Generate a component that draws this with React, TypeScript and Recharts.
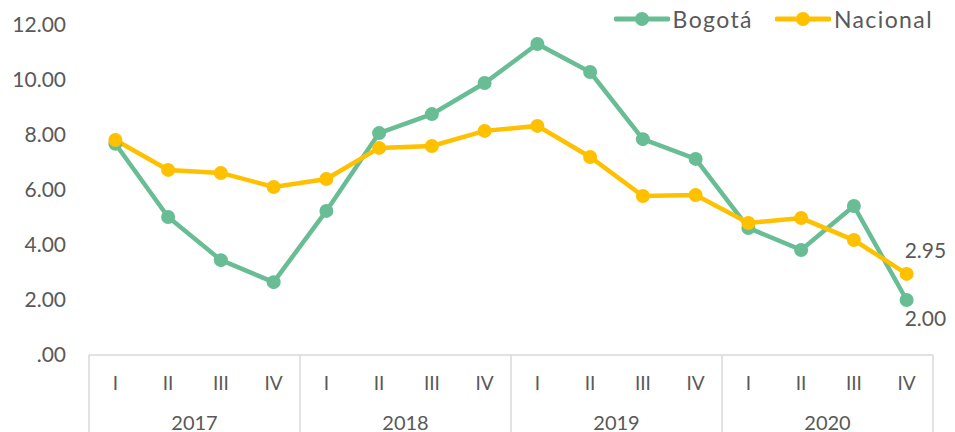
import React from "react";
import { LineChart, Line, XAxis, YAxis, Legend, LabelList } from "recharts";

const years = ["2017", "2018", "2019", "2020"];
const quarters = ["I", "II", "III", "IV"];
const bogota = [7.68, 5.02, 3.45, 2.65, 5.24, 8.07, 8.76, 9.89, 11.31, 10.29, 7.85, 7.13, 4.62, 3.82, 5.42, 2.0];
const nacional = [7.82, 6.73, 6.62, 6.11, 6.4, 7.53, 7.6, 8.15, 8.33, 7.2, 5.78, 5.82, 4.8, 4.98, 4.18, 2.95];
const yTicks = [0, 2, 4, 6, 8, 10, 12];

const data = bogota.map((b, i) => ({
  key: years[Math.floor(i / 4)] + "-" + quarters[i % 4],
  year: years[Math.floor(i / 4)],
  quarter: quarters[i % 4],
  bogota: b,
  nacional: nacional[i],
}));

const W = 955;
const H = 432;
const M = { top: 25, right: 22, bottom: 0, left: 0 };
const YW = 89;
const PLOT_W = W - M.left - M.right - YW;
const BAND = PLOT_W / data.length;

const GREEN = "#68BD94";
const YELLOW = "#FFC000";
const TEXT = "#595959";
const GRID = "#D9D9D9";
const FONT = "Lato, 'Open Sans', sans-serif";

const XTick = (props: any) => {
  const { x, y, index } = props;
  const half = BAND / 2;
  const d = data[index];
  return (
    <g>
      <text x={x} y={y + 35} textAnchor="middle" fill={TEXT} fontSize={19} fontFamily={FONT}>
        {d.quarter}
      </text>
      {index % 4 === 0 && (
        <line x1={x - half} x2={x - half} y1={y} y2={y + 80} stroke={GRID} strokeWidth={1.5} />
      )}
      {index === data.length - 1 && (
        <line x1={x + half} x2={x + half} y1={y} y2={y + 80} stroke={GRID} strokeWidth={1.5} />
      )}
      {index % 4 === 1 && (
        <text x={x + half} y={y + 75} textAnchor="middle" fill={TEXT} fontSize={20} fontFamily={FONT}>
          {d.year}
        </text>
      )}
    </g>
  );
};

const makeEndLabel = (above: boolean) => (props: any) => {
  const { x, y, index, value } = props;
  if (index !== data.length - 1) return null;
  return (
    <text x={x - 2} y={above ? y - 16 : y + 26} fill={TEXT} fontSize={21} fontFamily={FONT}>
      {Number(value).toFixed(2)}
    </text>
  );
};

const LegendContent = () => {
  const items = [
    { name: "Bogotá", color: GREEN },
    { name: "Nacional", color: YELLOW },
  ];
  return (
    <div style={{ display: "flex", justifyContent: "flex-end", alignItems: "center" }}>
      {items.map((it) => (
        <div key={it.name} style={{ display: "flex", alignItems: "center", marginLeft: 22 }}>
          <svg width={56} height={16}>
            <line x1={2} x2={54} y1={8} y2={8} stroke={it.color} strokeWidth={5} strokeLinecap="round" />
            <circle cx={28} cy={8} r={7} fill={it.color} />
          </svg>
          <span style={{ color: TEXT, fontSize: 23, fontFamily: FONT, marginLeft: 3, letterSpacing: 1.4 }}>{it.name}</span>
        </div>
      ))}
    </div>
  );
};

export default function App() {
  return (
    <div style={{ position: "absolute", left: 0, top: 0, width: W, height: H, background: "#fff" }}>
      <LineChart width={W} height={H} data={data} margin={M}>
        <XAxis
          dataKey="key"
          type="category"
          padding={{ left: BAND / 2, right: BAND / 2 }}
          axisLine={{ stroke: GRID, strokeWidth: 1.5 }}
          tickLine={false}
          tickSize={0}
          tickMargin={0}
          interval={0}
          height={77}
          tick={<XTick />}
        />
        <YAxis
          width={YW}
          domain={[0, 12]}
          ticks={yTicks}
          axisLine={false}
          tickLine={false}
          tickSize={0}
          tickMargin={23}
          tick={{ fill: TEXT, fontSize: 21, fontFamily: FONT }}
          tickFormatter={(v: number) => (v === 0 ? ".00" : v.toFixed(2))}
        />
        <Legend
          layout="horizontal"
          verticalAlign="top"
          align="right"
          content={<LegendContent />}
          wrapperStyle={{ top: 5, right: 22, left: "auto", width: "auto", height: 0, overflow: "visible" }}
        />
        <Line
          dataKey="bogota"
          name="Bogotá"
          stroke={GREEN}
          strokeWidth={4.5}
          dot={{ r: 7, fill: GREEN, stroke: GREEN, strokeWidth: 0 }}
          isAnimationActive={false}
        >
          <LabelList dataKey="bogota" content={makeEndLabel(false)} />
        </Line>
        <Line
          dataKey="nacional"
          name="Nacional"
          stroke={YELLOW}
          strokeWidth={4.5}
          dot={{ r: 7, fill: YELLOW, stroke: YELLOW, strokeWidth: 0 }}
          isAnimationActive={false}
        >
          <LabelList dataKey="nacional" content={makeEndLabel(true)} />
        </Line>
      </LineChart>
    </div>
  );
}
